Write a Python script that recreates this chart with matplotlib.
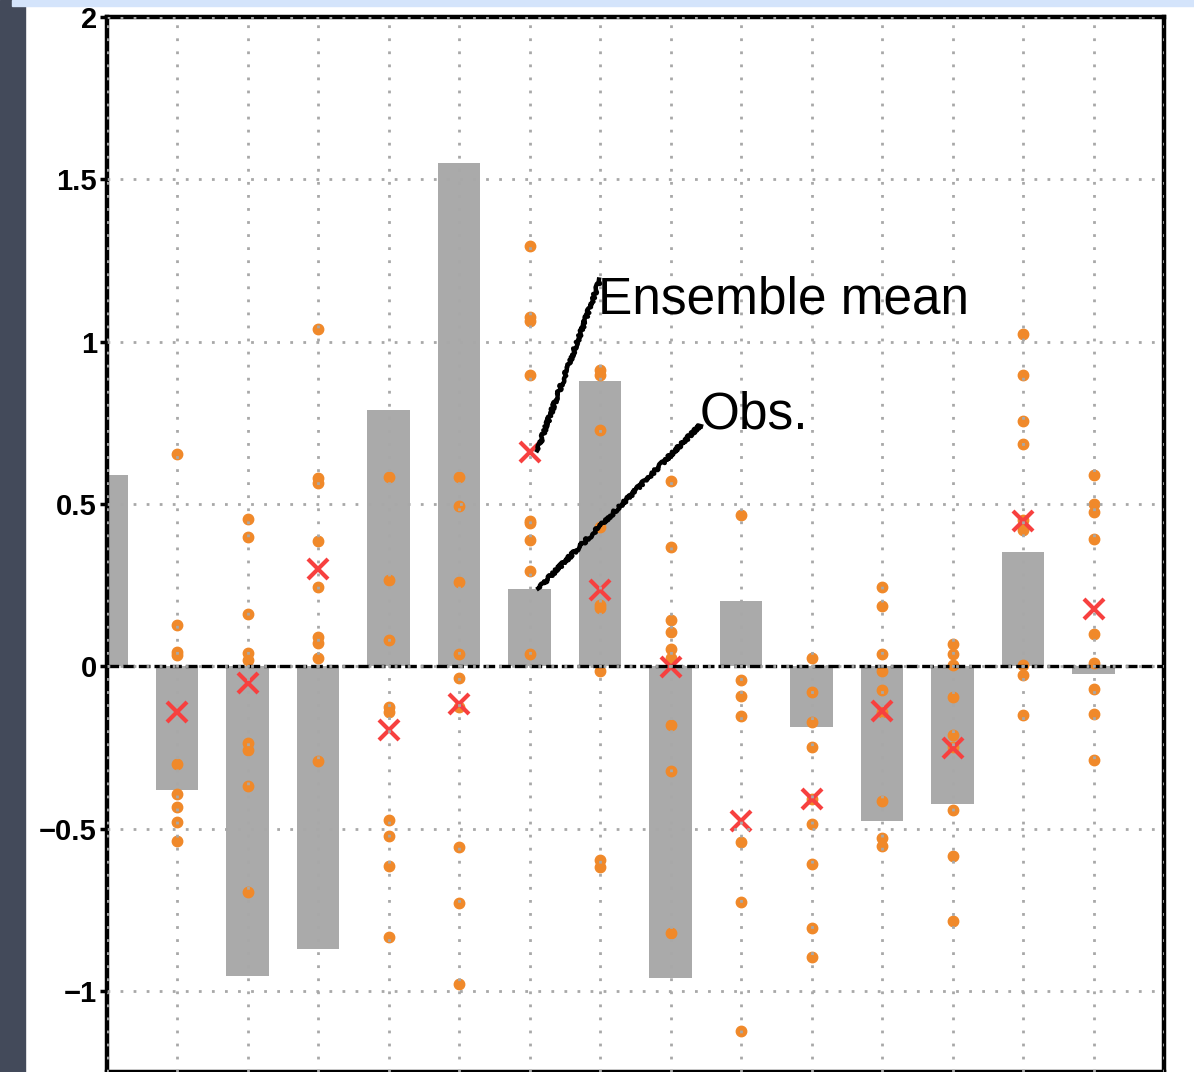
import numpy as np
import matplotlib.pyplot as plt
from matplotlib.patches import Rectangle

plt.rcParams['font.family'] = ['Liberation Sans', 'DejaVu Sans']
plt.rcParams['axes.unicode_minus'] = True

# bar values (observations), one per position 0..14
obs = [0.59, -0.38, -0.955, -0.87, 0.79, 1.55, 0.237, 0.88, -0.96, 0.20,
       -0.187, -0.477, -0.424, 0.351, -0.023]

# ensemble mean (red crosses); position 0 not shown
ens_mean = [np.nan, -0.142, -0.052, 0.30, -0.197, -0.117, 0.66, 0.234, -0.003,
            -0.477, -0.41, -0.139, -0.253, 0.447, 0.176]

# ensemble members (orange dots) per position
members = {
    1: [0.653, 0.126, 0.044, 0.034, -0.302, -0.394, -0.435, -0.48, -0.538],
    2: [0.453, 0.398, 0.162, 0.04, 0.018, -0.236, -0.259, -0.37, -0.697],
    3: [1.04, 0.58, 0.564, 0.386, 0.244, 0.09, 0.071, 0.026, -0.292],
    4: [0.583, 0.267, 0.08, -0.125, -0.14, -0.474, -0.524, -0.615, -0.835],
    5: [0.583, 0.493, 0.259, 0.039, -0.035, -0.125, -0.557, -0.729, -0.978],
    6: [1.294, 1.075, 1.062, 0.896, 0.448, 0.44, 0.388, 0.293, 0.039],
    7: [0.912, 0.896, 0.727, 0.429, 0.19, 0.18, -0.014, -0.598, -0.618],
    8: [0.57, 0.368, 0.142, 0.106, 0.054, 0.025, -0.182, -0.323, -0.822],
    9: [0.465, -0.041, -0.092, -0.154, -0.542, -0.725, -1.125],
    10: [0.026, -0.079, -0.172, -0.249, -0.41, -0.485, -0.608, -0.806, -0.895],
    11: [0.244, 0.185, 0.037, -0.014, -0.074, -0.14, -0.415, -0.528, -0.553],
    12: [0.068, 0.039, 0.003, -0.094, -0.213, -0.25, -0.444, -0.585, -0.786],
    13: [1.025, 0.896, 0.755, 0.685, 0.45, 0.419, 0.003, -0.028, -0.149],
    14: [0.59, 0.501, 0.475, 0.391, 0.1, 0.01, -0.071, -0.148, -0.288],
}

yticks = [-1, -0.5, 0, 0.5, 1, 1.5, 2]
ytick_labels = ['\u22121', '\u22120.5', '0', '0.5', '1', '1.5', '2']

fig = plt.figure(figsize=(11.94, 10.72), dpi=100)
fig.patch.set_facecolor('white')
# slide background bits
fig.patches.append(Rectangle((0, 0), 25 / 1194, 1, transform=fig.transFigure,
                             color='#434a5a', zorder=0))
fig.patches.append(Rectangle((12 / 1194, 1 - 6 / 1072), 1, 6 / 1072,
                             transform=fig.transFigure, color='#d4e4fb', zorder=0))

ax = fig.add_axes([106.5 / 1194, 0, (1164 - 106.5) / 1194, 1 - 17 / 1072])
x = np.arange(len(obs))

ax.bar(x, obs, width=0.6, color='#aaaaaa', zorder=1)

for i, vals in members.items():
    ax.plot([i] * len(vals), vals, 'o', color='#f0892a', ms=7.5, mec='#f0892a',
            zorder=1.5)

ax.plot(x, ens_mean, 'x', color='#f7403f', ms=14, mew=3, zorder=1.8)

ax.axhline(0, color='black', lw=2.4, dashes=(3.5, 1.2), zorder=1.9)

ax.set_xlim(0, 15)
ax.set_ylim(-1.25, 2)
ax.set_xticks(np.arange(0, 16))
ax.set_xticklabels([])
ax.set_yticks(yticks)
ax.set_yticklabels(ytick_labels, fontsize=21, fontweight='bold')
ax.tick_params(axis='x', length=0)
ax.tick_params(axis='y', length=5, width=2.5, pad=2, direction='out')

ax.set_axisbelow(False)
ax.grid(True, color='#a8a8a8', lw=2.0, dashes=(1, 3.7))
for s in ax.spines.values():
    s.set_linewidth(3.2)
    s.set_color('black')

# annotations with sketchy leader lines
l1, = ax.plot([6.11, 7.0], [0.665, 1.19], color='black', lw=3.2, zorder=3)
l1.set_sketch_params(scale=1.6, length=2, randomness=30)
l2, = ax.plot([6.125, 8.42], [0.24, 0.742], color='black', lw=3.2, zorder=3)
l2.set_sketch_params(scale=1.6, length=2, randomness=30)

ax.text(6.97, 1.087, 'Ensemble mean', fontsize=37, ha='left', va='baseline')
ax.text(8.42, 0.733, 'Obs.', fontsize=37, ha='left', va='baseline')

fig.savefig('out.png', dpi=100)
